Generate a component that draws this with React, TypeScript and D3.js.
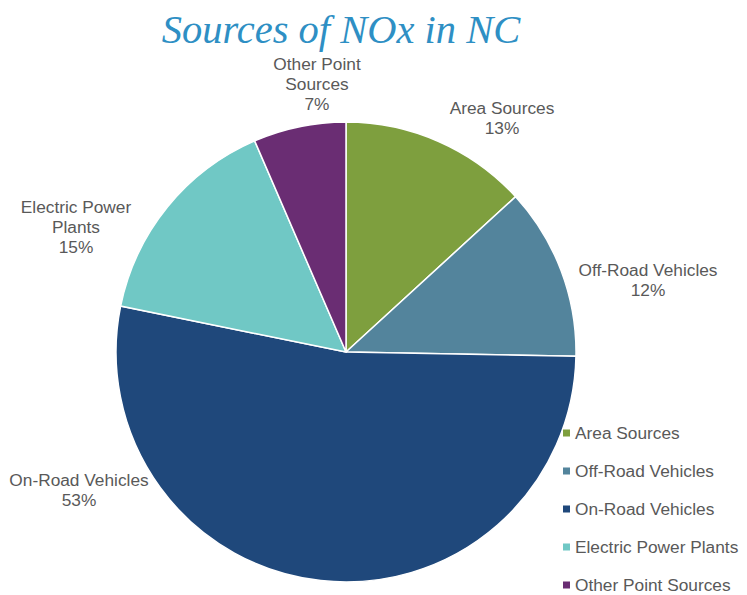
import * as d3 from "d3";

const categories = [
  "Area Sources",
  "Off-Road Vehicles",
  "On-Road Vehicles",
  "Electric Power Plants",
  "Other Point Sources",
];
// shares in percent
const values = [13.2, 12.1, 52.9, 15.3, 6.5];
const colors = ["#7E9F3E", "#53849C", "#1F487B", "#70C8C5", "#6A2D73"];
// category part of each data label, wrapped as in the original chart
const labelNames = [
  ["Area Sources"],
  ["Off-Road Vehicles"],
  ["On-Road Vehicles"],
  ["Electric Power", "Plants"],
  ["Other Point", "Sources"],
];

// label anchor points (center of first line)
const labelPos = [
  [502, 108],
  [648, 270],
  [79, 480],
  [76, 207],
  [317, 64],
];

const W = 747;
const H = 595;
const cx = 346;
const cy = 352;
const R = 230;

type Datum = { name: string; value: number; i: number };

export default function App() {
  const data: Datum[] = categories.map((c, i) => ({ name: c, value: values[i], i }));
  const pie = d3
    .pie<Datum>()
    .sort(null)
    .value((d) => d.value);
  const arcs = pie(data);
  const arc = d3
    .arc<d3.PieArcDatum<Datum>>()
    .innerRadius(0)
    .outerRadius(R);

  const legendY = d3
    .scalePoint<string>()
    .domain(categories)
    .range([433, 585]);

  return (
    <svg
      width={W}
      height={H}
      style={{ position: "absolute", left: 0, top: 0 }}
      fontFamily="Liberation Sans, Arial, sans-serif"
    >
      <rect width={W} height={H} fill="white" />
      <text
        x={341}
        y={43}
        textAnchor="middle"
        fontFamily="Liberation Serif, Times New Roman, serif"
        fontStyle="italic"
        fontSize={40.5}
        fill="#2E8FC4"
      >
        Sources of NOx in NC
      </text>
      <g transform={`translate(${cx},${cy})`}>
        {arcs.map((a) => (
          <path
            key={a.data.name}
            d={arc(a) || ""}
            fill={colors[a.data.i]}
            stroke="white"
            strokeWidth={1.5}
          />
        ))}
      </g>
      {labelNames.map((lines, i) => (
        <text
          key={i}
          x={labelPos[i][0]}
          y={labelPos[i][1] + 6}
          textAnchor="middle"
          fontSize={17.3}
          fill="#595959"
        >
          {[...lines, `${Math.round(values[i])}%`].map((l, j) => (
            <tspan key={j} x={labelPos[i][0]} dy={j === 0 ? 0 : 20}>
              {l}
            </tspan>
          ))}
        </text>
      ))}
      {categories.map((c, i) => (
        <g key={c} transform={`translate(563,${legendY(c)})`}>
          <rect x={0} y={-3.5} width={7} height={7} fill={colors[i]} />
          <text x={12} y={6} fontSize={17.3} fill="#595959">
            {c}
          </text>
        </g>
      ))}
    </svg>
  );
}
